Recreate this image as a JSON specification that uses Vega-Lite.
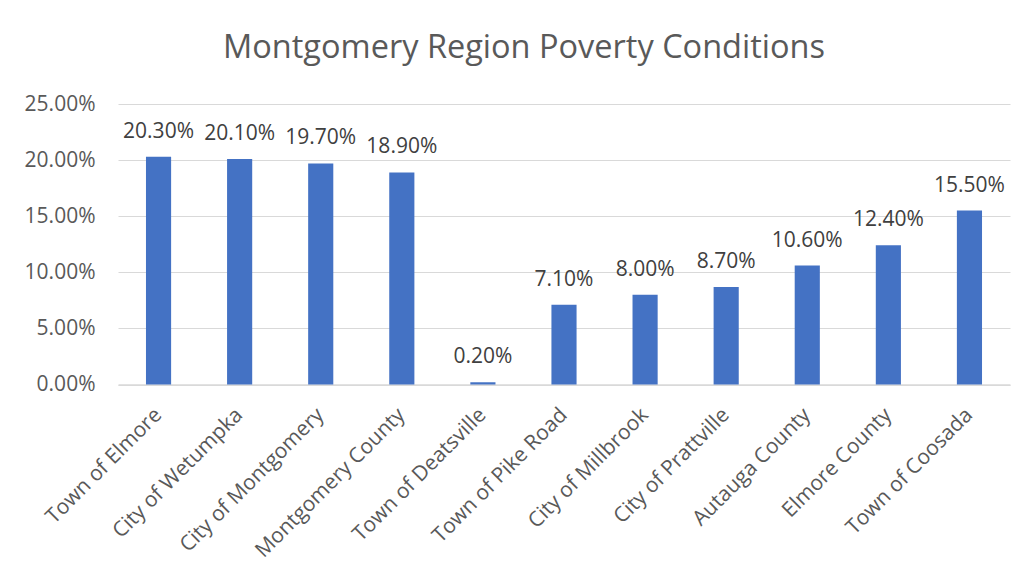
{
  "$schema": "https://vega.github.io/schema/vega-lite/v6.json",
  "autosize": "none",
  "width": 892,
  "height": 280.5,
  "padding": {"left": 118, "top": 104, "right": 19, "bottom": 195.5},
  "background": "white",
  "title": {
    "text": "Montgomery Region Poverty Conditions",
    "font": "Open Sans",
    "fontSize": 32.5,
    "fontWeight": "normal",
    "color": "#595959",
    "anchor": "middle",
    "baseline": "alphabetic",
    "offset": 47,
    "dx": -40,
    "dy": 44
  },
  "data": {
    "values": [
      {"place": "Town of Elmore", "rate": 0.203},
      {"place": "City of Wetumpka", "rate": 0.201},
      {"place": "City of Montgomery", "rate": 0.197},
      {"place": "Montgomery County", "rate": 0.189},
      {"place": "Town of Deatsville", "rate": 0.002},
      {"place": "Town of Pike Road", "rate": 0.071},
      {"place": "City of Millbrook", "rate": 0.08},
      {"place": "City of Prattville", "rate": 0.087},
      {"place": "Autauga County", "rate": 0.106},
      {"place": "Elmore County", "rate": 0.124},
      {"place": "Town of Coosada", "rate": 0.155}
    ]
  },
  "encoding": {
    "x": {
      "field": "place",
      "type": "nominal",
      "sort": null,
      "scale": {"paddingInner": 0.69, "paddingOuter": 0.345},
      "axis": {
        "title": null,
        "labelAngle": -45,
        "labelAlign": "right",
        "labelBaseline": "middle",
        "labelFont": "Open Sans",
        "labelFontSize": 21,
        "labelColor": "#595959",
        "labelPadding": 27,
        "labelLimit": 400,
        "ticks": false,
        "domainColor": "#d9d9d9",
        "domainWidth": 1.5,
        "grid": false
      }
    },
    "y": {
      "field": "rate",
      "type": "quantitative",
      "scale": {"domain": [0, 0.25], "nice": false},
      "axis": {
        "title": null,
        "values": [0, 0.05, 0.1, 0.15, 0.2, 0.25],
        "format": ".2%",
        "labelFont": "Open Sans",
        "labelFontSize": 21,
        "labelColor": "#595959",
        "labelPadding": 23,
        "ticks": false,
        "domain": false,
        "grid": true,
        "gridColor": "#d9d9d9",
        "gridWidth": 1.2
      }
    }
  },
  "layer": [
    {"mark": {"type": "bar", "color": "#4472C4"}},
    {
      "mark": {
        "type": "text",
        "font": "Open Sans",
        "fontSize": 21,
        "color": "#404040",
        "baseline": "alphabetic",
        "dy": -19
      },
      "encoding": {"text": {"field": "rate", "type": "quantitative", "format": ".2%"}}
    }
  ],
  "config": {"view": {"stroke": null}}
}
